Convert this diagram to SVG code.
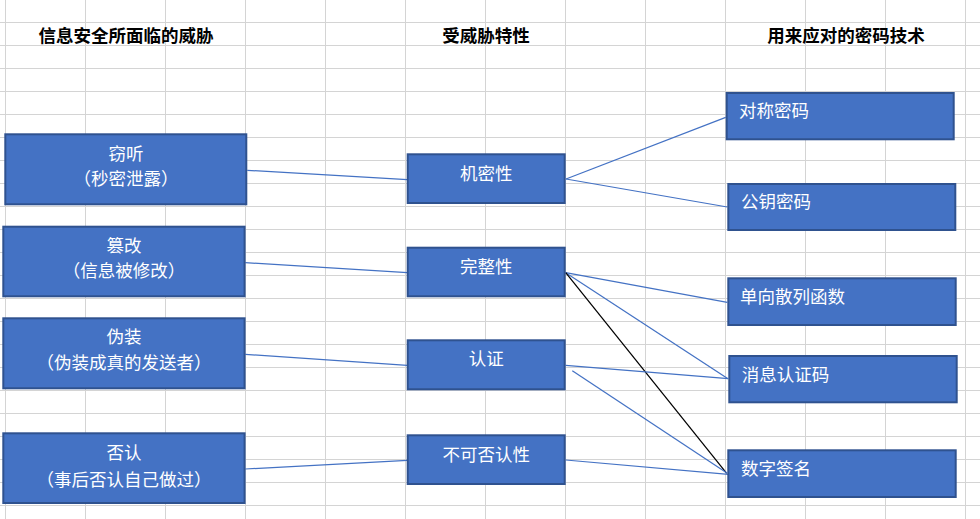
<svg xmlns="http://www.w3.org/2000/svg" width="980" height="519" viewBox="0 0 980 519">
<defs>
<style>
.grid line{stroke:#D4D4D4;stroke-width:1}
.box{fill:#4472C4;stroke:#2F528F;stroke-width:2}
.t{font-family:"Noto Sans CJK SC","Microsoft YaHei",sans-serif;font-size:17.5px;fill:#FFFFFF}
.c{text-anchor:middle}
.h{font-family:"Noto Sans CJK SC",sans-serif;font-size:17.5px;font-weight:bold;fill:#000000;text-anchor:middle}
.conn line{stroke:#4472C4;stroke-width:1.25;fill:none}
.conn line.k{stroke:#000000}
</style>
</defs>
<rect x="0" y="0" width="980" height="519" fill="#FFFFFF"/>
<g class="grid">
<line x1="5.5" y1="0" x2="5.5" y2="519"/>
<line x1="85.5" y1="0" x2="85.5" y2="519"/>
<line x1="165.5" y1="0" x2="165.5" y2="519"/>
<line x1="245.5" y1="0" x2="245.5" y2="519"/>
<line x1="325.5" y1="0" x2="325.5" y2="519"/>
<line x1="405.5" y1="0" x2="405.5" y2="519"/>
<line x1="485.5" y1="0" x2="485.5" y2="519"/>
<line x1="565.5" y1="0" x2="565.5" y2="519"/>
<line x1="645.5" y1="0" x2="645.5" y2="519"/>
<line x1="725.5" y1="0" x2="725.5" y2="519"/>
<line x1="805.5" y1="0" x2="805.5" y2="519"/>
<line x1="885.5" y1="0" x2="885.5" y2="519"/>
<line x1="965.5" y1="0" x2="965.5" y2="519"/>
<line x1="0" y1="22.5" x2="980" y2="22.5"/>
<line x1="0" y1="45.5" x2="980" y2="45.5"/>
<line x1="0" y1="68.5" x2="980" y2="68.5"/>
<line x1="0" y1="91.5" x2="980" y2="91.5"/>
<line x1="0" y1="114.5" x2="980" y2="114.5"/>
<line x1="0" y1="137.5" x2="980" y2="137.5"/>
<line x1="0" y1="160.5" x2="980" y2="160.5"/>
<line x1="0" y1="183.5" x2="980" y2="183.5"/>
<line x1="0" y1="206.5" x2="980" y2="206.5"/>
<line x1="0" y1="229.5" x2="980" y2="229.5"/>
<line x1="0" y1="252.5" x2="980" y2="252.5"/>
<line x1="0" y1="275.5" x2="980" y2="275.5"/>
<line x1="0" y1="298.5" x2="980" y2="298.5"/>
<line x1="0" y1="321.5" x2="980" y2="321.5"/>
<line x1="0" y1="344.5" x2="980" y2="344.5"/>
<line x1="0" y1="367.5" x2="980" y2="367.5"/>
<line x1="0" y1="390.5" x2="980" y2="390.5"/>
<line x1="0" y1="413.5" x2="980" y2="413.5"/>
<line x1="0" y1="436.5" x2="980" y2="436.5"/>
<line x1="0" y1="459.5" x2="980" y2="459.5"/>
<line x1="0" y1="482.5" x2="980" y2="482.5"/>
<line x1="0" y1="505.5" x2="980" y2="505.5"/>
</g>
<g id="headers">
<text class="h" x="126" y="42">信息安全所面临的威胁</text>
<text class="h" x="486" y="42">受威胁特性</text>
<text class="h" x="846" y="42">用来应对的密码技术</text>
</g>
<g id="connectors" class="conn">
<line x1="247.3" y1="170.3" x2="407.3" y2="179.7"/>
<line x1="245.3" y1="262.7" x2="407.3" y2="272.7"/>
<line x1="245.3" y1="354.3" x2="407.3" y2="365.3"/>
<line x1="245.3" y1="469" x2="407.3" y2="460.3"/>
<line x1="566" y1="179" x2="725.7" y2="117.3"/>
<line x1="566" y1="179" x2="727.3" y2="207"/>
<line x1="565.7" y1="272.7" x2="727.3" y2="302.3"/>
<line x1="565.7" y1="272.7" x2="728" y2="378.7"/>
<line class="k" x1="565.7" y1="272.7" x2="726.7" y2="473.3"/>
<line x1="565.7" y1="365.3" x2="728.3" y2="378.7"/>
<line x1="572.3" y1="370.7" x2="727.3" y2="473.3"/>
<line x1="565.7" y1="460" x2="728.3" y2="474.3"/>
</g>
<g id="n-qieting">
<rect class="box" x="5.3" y="134.3" width="241" height="70"/>
<text class="t c" x="126" y="160">窃听</text>
<text class="t c" x="126" y="185">（秒密泄露）</text>
</g>
<g id="n-cuangai">
<rect class="box" x="3.3" y="226.7" width="241.3" height="69.6"/>
<text class="t c" x="124" y="251.5">篡改</text>
<text class="t c" x="124" y="277">（信息被修改）</text>
</g>
<g id="n-weizhuang">
<rect class="box" x="3.3" y="318.3" width="241.3" height="70"/>
<text class="t c" x="124" y="343">伪装</text>
<text class="t c" x="124" y="369">（伪装成真的发送者）</text>
</g>
<g id="n-fouren">
<rect class="box" x="3.3" y="433.3" width="241.3" height="69.7"/>
<text class="t c" x="124" y="459">否认</text>
<text class="t c" x="124" y="485.5">（事后否认自己做过）</text>
</g>
<g id="n-jimixing">
<rect class="box" x="407.7" y="154.3" width="157" height="48.7"/>
<text class="t c" x="486.2" y="180">机密性</text>
</g>
<g id="n-wanzhengxing">
<rect class="box" x="407.7" y="247.7" width="157" height="48.6"/>
<text class="t c" x="486.2" y="273">完整性</text>
</g>
<g id="n-renzheng">
<rect class="box" x="407.7" y="340.3" width="157" height="49"/>
<text class="t c" x="486.2" y="365">认证</text>
</g>
<g id="n-bukefourenxing">
<rect class="box" x="407.7" y="435.3" width="157" height="48.7"/>
<text class="t c" x="486.2" y="460.5">不可否认性</text>
</g>
<g id="n-duichen">
<rect class="box" x="726.7" y="93" width="227" height="46.3"/>
<text class="t" x="739" y="117">对称密码</text>
</g>
<g id="n-gongyao">
<rect class="box" x="728.3" y="184" width="227" height="46"/>
<text class="t" x="741" y="208">公钥密码</text>
</g>
<g id="n-sanlie">
<rect class="box" x="728.3" y="278.3" width="227.4" height="46.7"/>
<text class="t" x="740" y="303">单向散列函数</text>
</g>
<g id="n-mac">
<rect class="box" x="729.3" y="356" width="227.4" height="46.3"/>
<text class="t" x="741.7" y="380.5">消息认证码</text>
</g>
<g id="n-qianming">
<rect class="box" x="728.3" y="450.3" width="227.4" height="46.7"/>
<text class="t" x="741" y="475">数字签名</text>
</g>
</svg>
